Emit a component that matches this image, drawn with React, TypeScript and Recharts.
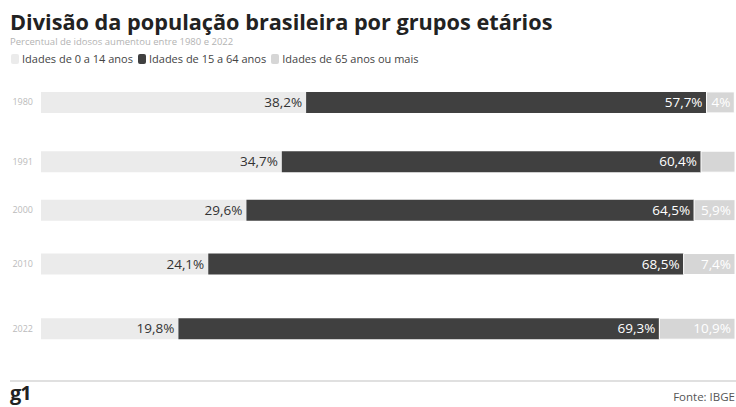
import { BarChart, Bar, XAxis, YAxis, LabelList } from 'recharts'

const years = [1980, 1991, 2000, 2010, 2022]
const young = [38.2, 34.7, 29.6, 24.1, 19.8]
const adult = [57.7, 60.4, 64.5, 68.5, 69.3]
const elderly = [4, 4.9, 5.9, 7.4, 10.9]
const elderlyLabels = ['4%', '', '5,9%', '7,4%', '10,9%']

const seriesNames = ['Idades de 0 a 14 anos', 'Idades de 15 a 64 anos', 'Idades de 65 anos ou mais']
const seriesColors = ['#ebebeb', '#404040', '#d6d6d6']

const data = years.map((year, i) => ({
  year,
  young: young[i],
  adult: adult[i],
  elderly: elderly[i],
  elderlyLabel: elderlyLabels[i],
}))

const fmt = (v: any) => `${String(v).replace('.', ',')}%`

export default function App() {
  return (
    <div
      style={{
        position: 'relative',
        width: 736,
        height: 407,
        overflow: 'hidden',
        background: '#fff',
        fontFamily: '"Open Sans", sans-serif',
      }}
    >
      <style>{'body { margin: 0; }'}</style>
      <div style={{ position: 'absolute', left: 8, top: 8, width: 728, height: 399 }}>
        <div
          style={{
            position: 'absolute',
            left: 2,
            top: 3,
            fontSize: 21.7,
            lineHeight: '21px',
            fontWeight: 700,
            color: '#222',
            whiteSpace: 'nowrap',
          }}
        >
          Divisão da população brasileira por grupos etários
        </div>
        <div
          style={{
            position: 'absolute',
            left: 2,
            top: 27,
            fontSize: 9.5,
            lineHeight: '13px',
            color: '#b3b3b3',
            whiteSpace: 'nowrap',
          }}
        >
          Percentual de idosos aumentou entre 1980 e 2022
        </div>
        <div
          style={{
            position: 'absolute',
            left: 3,
            top: 44,
            display: 'flex',
            alignItems: 'center',
            fontSize: 11,
            lineHeight: '14px',
            color: '#444',
            whiteSpace: 'nowrap',
          }}
        >
          {seriesNames.map((name, i) => (
            <span key={name} style={{ display: 'flex', alignItems: 'center', marginRight: 5 }}>
              <span
                style={{
                  display: 'inline-block',
                  width: 8,
                  height: 10,
                  borderRadius: 2,
                  background: seriesColors[i],
                  marginRight: 3,
                }}
              />
              {name}
            </span>
          ))}
        </div>

        <div style={{ position: 'absolute', left: 0, top: 0 }}>
          <BarChart
            width={728}
            height={350}
            data={data}
            layout="vertical"
            margin={{ top: 72.6, right: 1, bottom: 8, left: 0 }}
          >
            <XAxis type="number" domain={[0, 100]} hide />
            <YAxis
              type="number"
              dataKey="year"
              domain={[1976, 2026]}
              ticks={years}
              axisLine={false}
              tickLine={false}
              width={33}
              tick={{ fill: '#bbbbbb', fontSize: 9 }}
            />
            <Bar dataKey="young" stackId="a" fill={seriesColors[0]} barSize={21} isAnimationActive={false}>
              <LabelList
                dataKey="young"
                position="insideRight"
                offset={4}
                formatter={fmt}
                fill="#333"
                fontSize={13.5}
              />
            </Bar>
            <Bar dataKey="adult" stackId="a" fill={seriesColors[1]} barSize={21} isAnimationActive={false}>
              <LabelList
                dataKey="adult"
                position="insideRight"
                offset={4}
                formatter={fmt}
                fill="#fff"
                fontSize={13.5}
              />
            </Bar>
            <Bar
              dataKey="elderly"
              stackId="a"
              fill={seriesColors[2]}
              stroke="#fff"
              strokeWidth={1}
              barSize={21}
              isAnimationActive={false}
            >
              <LabelList
                dataKey="elderlyLabel"
                position="insideRight"
                offset={4}
                fill="#fff"
                fontSize={13.5}
              />
            </Bar>
          </BarChart>
        </div>

        <div
          style={{
            position: 'absolute',
            left: 2,
            top: 372,
            width: 726,
            height: 1.5,
            background: '#e0e0e0',
          }}
        />
        <div
          style={{
            position: 'absolute',
            left: 2,
            top: 375,
            fontSize: 20,
            lineHeight: '20px',
            fontWeight: 700,
            color: '#222',
            letterSpacing: -1,
          }}
        >
          g1
        </div>
        <div
          style={{
            position: 'absolute',
            right: 1,
            top: 381,
            fontSize: 11.5,
            lineHeight: '16px',
            color: '#555',
            whiteSpace: 'nowrap',
            textAlign: 'right',
          }}
        >
          Fonte: IBGE
        </div>
      </div>
    </div>
  )
}
